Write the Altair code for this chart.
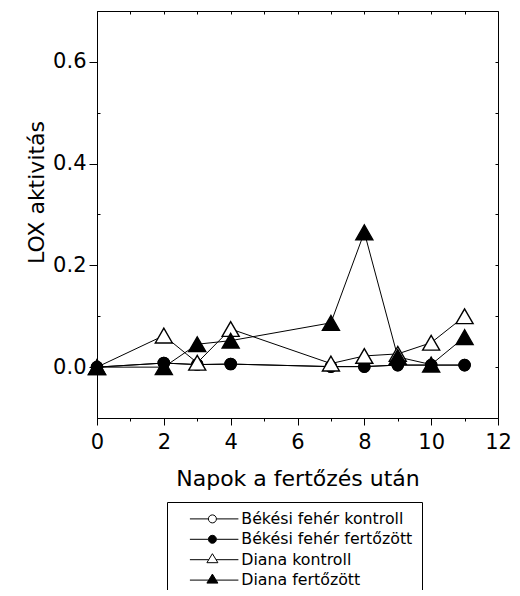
import altair as alt
import pandas as pd

# ---- data ----
days = [0, 2, 3, 4, 7, 8, 9, 10, 11]
series_names = ["Békési fehér kontroll", "Békési fehér fertőzött",
                "Diana kontroll", "Diana fertőzött"]
bekesi_kontroll = [0.0, 0.008, 0.005, 0.006, 0.001, 0.001, 0.004, 0.004, 0.004]
bekesi_fertozott = [0.0, 0.008, 0.005, 0.006, 0.001, 0.001, 0.004, 0.004, 0.004]
diana_kontroll = [0.0, 0.062, 0.0085, 0.075, 0.007, 0.022, 0.026, 0.048, 0.100]
diana_fertozott = [0.0, 0.0, 0.045, 0.052, 0.087, 0.265, 0.020, 0.005, 0.059]
x_ticks = [0, 2, 4, 6, 8, 10, 12]
x_minor = [1, 3, 5, 7, 9, 11]
x_all = list(range(0, 13))
y_ticks = [0.0, 0.2, 0.4, 0.6]
y_minor = [0.1, 0.3, 0.5]
y_all = [0.0, 0.1, 0.2, 0.3, 0.4, 0.5, 0.6]

rows = []
for name, vals in zip(series_names, [bekesi_kontroll, bekesi_fertozott,
                                     diana_kontroll, diana_fertozott]):
    for d, v in zip(days, vals):
        rows.append({"series": name, "day": d, "lox": v})
df = pd.DataFrame(rows)

FONT = "DejaVu Sans"
xs = alt.Scale(domain=[0, 12], nice=False, zero=False)
ys = alt.Scale(domain=[-0.1, 0.7], nice=False, zero=False)

x_main = alt.X("day:Q", scale=xs,
               axis=alt.Axis(orient="bottom", values=x_ticks,
                             title="Napok a fertőzés után",
                             tickSize=7, labelPadding=6, labelFlush=False,
                             titleY=67, titleBaseline="alphabetic"))
y_main = alt.Y("lox:Q", scale=ys,
               axis=alt.Axis(orient="left", values=y_ticks, format=".1f",
                             title="LOX aktivitás",
                             tickSize=8, labelPadding=3, labelFlush=False,
                             titleX=-54, titleY=181, titleAngle=270,
                             titleBaseline="alphabetic", titleAlign="center"))
x_plain = alt.X("day:Q", scale=xs, axis=None)
y_plain = alt.Y("lox:Q", scale=ys, axis=None)

base = alt.Chart(df)

lines = base.mark_line(color="black", strokeWidth=1).encode(
    x=x_main, y=y_main, detail="series:N", order="day:Q")

# minor ticks (bottom outward, left inward) and mirrored ticks (top, right inward)
minor_ticks = base.transform_filter("false").mark_point().encode(
    x=alt.X("day:Q", scale=xs, axis=alt.Axis(orient="bottom", values=x_minor,
            tickSize=3, labels=False, domain=False, title=None)),
    y=alt.Y("lox:Q", scale=ys, axis=alt.Axis(orient="left", values=y_minor,
            tickSize=3, offset=-3, labels=False, domain=False, title=None)),
)
mirror_ticks = base.transform_filter("false").mark_point().encode(
    x=alt.X("day:Q", scale=xs, axis=alt.Axis(orient="top", values=x_all,
            tickSize=3, offset=-3, labels=False, domain=False, title=None)),
    y=alt.Y("lox:Q", scale=ys, axis=alt.Axis(orient="right", values=y_all,
            tickSize=3, offset=-3, labels=False, domain=False, title=None)),
)

marker_shapes = ["circle", "circle", "triangle-up", "triangle-up"]
marker_fills = ["white", "black", "white", "black"]
marker_sizes = [125, 125, 290, 290]

point_layers = []
for name, shp, fil, siz in zip(series_names, marker_shapes, marker_fills, marker_sizes):
    point_layers.append(
        base.transform_filter(alt.datum.series == name).mark_point(
            shape=shp, fill=fil, filled=True, stroke="black", strokeWidth=1.4,
            size=siz, opacity=1
        ).encode(x=x_plain, y=y_plain)
    )

circ = "M-4.5,0H-0.8M0.8,0H5.2M0.8,0A0.8,0.8,0,1,1,-0.8,0A0.8,0.8,0,1,1,0.8,0Z"
tri = "M-4.5,0H-0.73M0.73,0H5.2M0,-1.2L1.1,0.6L-1.1,0.6Z"

leg = alt.Legend(title=None, orient="none", legendX=70, legendY=491,
                 direction="vertical", symbolSize=100, symbolStrokeWidth=1,
                 symbolOpacity=1, symbolOffset=28.5, labelOffset=21,
                 labelFont=FONT, labelFontSize=15.8, labelColor="black",
                 labelLimit=0, strokeColor="black", fillColor="white",
                 padding=9, rowPadding=3.4)

legend_layer = base.transform_filter("false").mark_point(
    filled=False, strokeWidth=1).encode(
    x=x_plain, y=y_plain,
    shape=alt.Shape("series:N", scale=alt.Scale(domain=series_names,
                    range=[circ, circ, tri, tri]), legend=leg),
    fill=alt.Fill("series:N", scale=alt.Scale(domain=series_names,
                  range=marker_fills), legend=leg),
    stroke=alt.Stroke("series:N", scale=alt.Scale(domain=series_names,
                      range=["black"] * 4), legend=leg),
)

chart = alt.layer(lines, minor_ticks, mirror_ticks, *point_layers, legend_layer).properties(
    width=401, height=407,
    autosize=alt.AutoSizeParams(type="none"),
    padding={"left": 89, "top": 3, "right": 14, "bottom": 172},
).configure_view(
    stroke="black", strokeWidth=1
).configure_axis(
    grid=False, domainColor="black", tickColor="black", labelColor="black",
    titleColor="black", labelFont=FONT, titleFont=FONT, labelFontSize=21,
    titleFontSize=22, titleFontWeight="normal", domainWidth=1, tickWidth=1
)

chart.save("out.html", embed_options={"renderer": "svg", "actions": False})
